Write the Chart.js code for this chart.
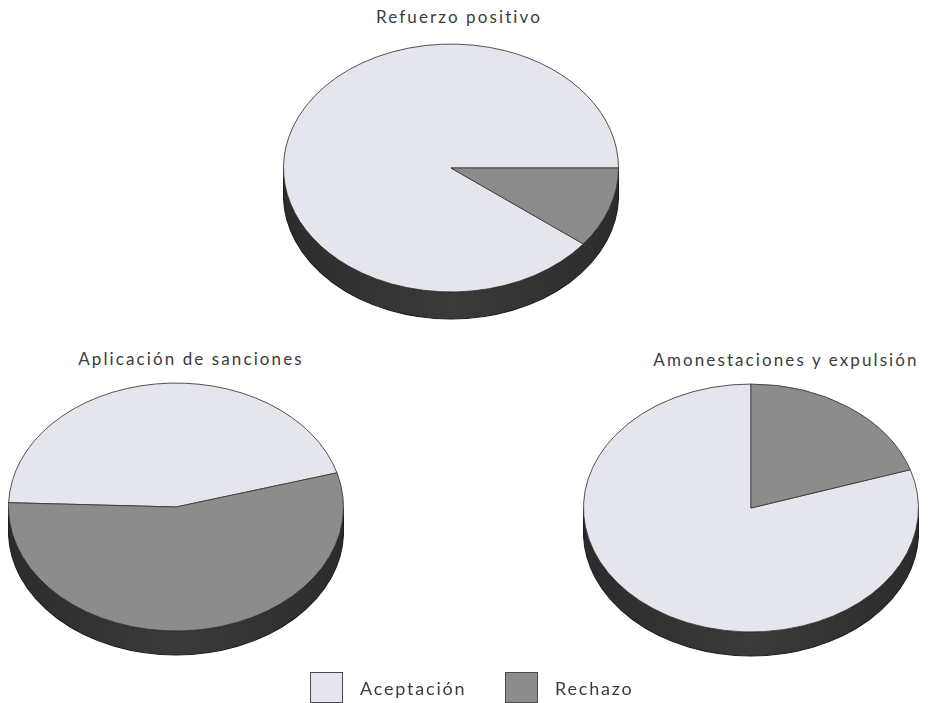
<!DOCTYPE html>
<html>
<head>
<meta charset="utf-8">
<script src="https://cdn.jsdelivr.net/npm/chart.js@4/dist/chart.umd.min.js"></script>
<style>
  html, body { margin: 0; padding: 0; background: #fff; }
  #page { position: relative; width: 930px; height: 703px; overflow: hidden; font-family: Lato, "Open Sans", sans-serif; color: #3c3c3c; }
  .pie { position: absolute; width: 336px; height: 336px; }
  .title { position: absolute; font-size: 17px; letter-spacing: 2.1px; white-space: nowrap; transform: translateX(-50%); line-height: 1; }
  .legend { position: absolute; top: 672px; display: flex; align-items: center; font-size: 18px; letter-spacing: 1.8px; }
  .legend span.box { display: inline-block; width: 31px; height: 29px; border: 1px solid #4a4a4a; margin-right: 17px; }
</style>
</head>
<body>
<div id="page">
  <div class="title" id="t0" style="left:459px; top:8px;"></div>
  <div class="title" id="t1" style="left:191px; top:350px;"></div>
  <div class="title" id="t2" style="left:786px; top:351px;"></div>

  <canvas class="pie" id="c0" style="left:283px; top:0px;"></canvas>
  <canvas class="pie" id="c1" style="left:8px; top:339px;"></canvas>
  <canvas class="pie" id="c2" style="left:583px; top:340px;"></canvas>

  <div class="legend" id="leg0" style="left:310px;"></div>
  <div class="legend" id="leg1" style="left:505px;"></div>
</div>

<script>
// categories and shares (%) for each group
const categories = ["Aceptación", "Rechazo"];
const titles = ["Refuerzo positivo", "Aplicación de sanciones", "Amonestaciones y expulsión"];
const refuerzo = [89.5, 10.5];
const sanciones = [45, 55];
const amonestaciones = [80, 20];

const colors = ["#e5e5ed", "#8c8c8c"];

// squash the pie into an ellipse and give it a dark side wall
const tilt = {
  id: "tilt",
  beforeDatasetsDraw(chart, args, opts) {
    const arc = chart.getDatasetMeta(0).data[0];
    const { x, y, outerRadius: r } = arc;
    const ctx = chart.ctx;
    const k = opts.ratio;
    const d = opts.depth / k;
    ctx.save();
    ctx.translate(x, y);
    ctx.scale(1, k);

    const g = ctx.createLinearGradient(-r, 0, r, 0);
    g.addColorStop(0, "#2c2c2c");
    g.addColorStop(0.5, "#3a3a3a");
    g.addColorStop(1, "#2c2c2c");
    ctx.beginPath();
    ctx.moveTo(r, 0);
    ctx.lineTo(r, d);
    ctx.arc(0, d, r, 0, Math.PI);
    ctx.lineTo(-r, 0);
    ctx.arc(0, 0, r, Math.PI, 0, true);
    ctx.closePath();
    ctx.fillStyle = g;
    ctx.fill();
    ctx.lineWidth = 1.2;
    ctx.strokeStyle = "#1e1e1e";
    ctx.stroke();

    ctx.translate(-x, -y);
  },
  afterDatasetsDraw(chart) {
    chart.ctx.restore();
  }
};

function makePie(id, values, rotation, depth) {
  return new Chart(document.getElementById(id), {
    type: "pie",
    data: {
      labels: categories,
      datasets: [{
        data: values,
        backgroundColor: colors,
        borderColor: "#3a3a3a",
        borderWidth: 1,
        hoverOffset: 0
      }]
    },
    options: {
      responsive: false,
      animation: false,
      rotation: rotation,
      layout: { padding: 0 },
      events: [],
      plugins: {
        legend: { display: false },
        tooltip: { enabled: false },
        tilt: { ratio: 0.74, depth: depth }
      }
    },
    plugins: [tilt]
  });
}

["c0", "c1", "c2"].forEach(id => {
  const c = document.getElementById(id);
  c.width = 336;
  c.height = 336;
});

makePie("c0", refuerzo, 90 + 360 * refuerzo[1] / 100, 27);
makePie("c1", sanciones, 272, 24);
makePie("c2", amonestaciones, 360 * amonestaciones[1] / 100, 24);

titles.forEach((t, i) => { document.getElementById("t" + i).textContent = t; });

categories.forEach((name, i) => {
  const el = document.getElementById("leg" + i);
  const box = document.createElement("span");
  box.className = "box";
  box.style.background = colors[i];
  el.appendChild(box);
  el.appendChild(document.createTextNode(name));
});
</script>
</body>
</html>
